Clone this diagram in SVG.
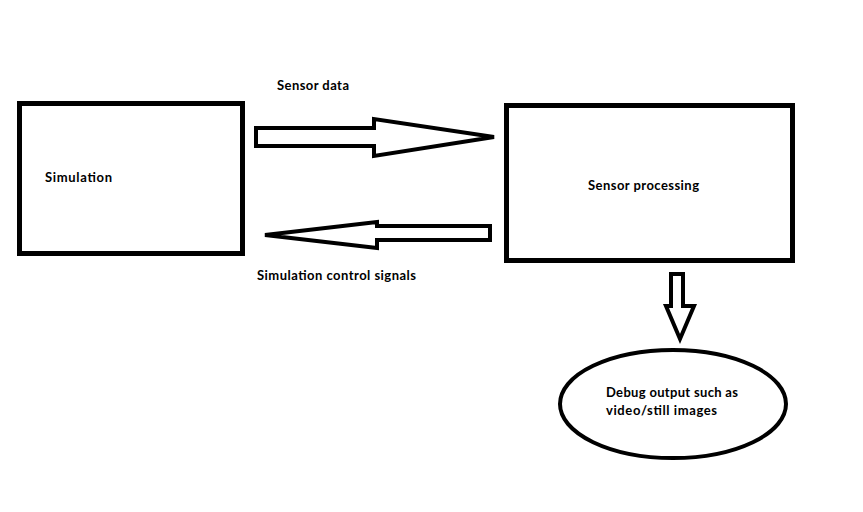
<svg xmlns="http://www.w3.org/2000/svg" width="863" height="512" viewBox="0 0 863 512">
<style>
.box{fill:#fff;stroke:#000;stroke-width:5}
.arr{fill:#fff;stroke:#000;stroke-width:4;stroke-linejoin:miter}
.t{font-family:Lato,"Open Sans",sans-serif;font-weight:bold;font-size:13px;fill:#000}
</style>
<rect width="863" height="512" fill="#fff"/>
<g id="connectors">
<polygon class="arr" points="256,128 374,128 374,119 494,137 374,156 374,146 256,146"/>
<polygon class="arr" points="490,226 377,226 377,222 265,235 377,248 377,240 490,240"/>
<polygon class="arr" points="671,274 683,274 683,306 694,306 680,339 666,306 671,306"/>
<text class="t" x="277" y="90" textLength="72">Sensor data</text>
<text class="t" x="257" y="280" textLength="159">Simulation control signals</text>
</g>
<g id="simulation">
<rect class="box" x="19.5" y="103.5" width="223" height="150"/>
<text class="t" x="45" y="182" textLength="67">Simulation</text>
</g>
<g id="sensor-processing">
<rect class="box" x="506.5" y="105.5" width="286" height="155"/>
<text class="t" x="588" y="190" textLength="111">Sensor processing</text>
</g>
<g id="debug-output">
<ellipse cx="673" cy="404" rx="113" ry="54" fill="#fff" stroke="#000" stroke-width="4"/>
<text class="t" x="606" y="397" textLength="132">Debug output such as</text>
<text class="t" x="606" y="415" textLength="111">video/still images</text>
</g>
</svg>
